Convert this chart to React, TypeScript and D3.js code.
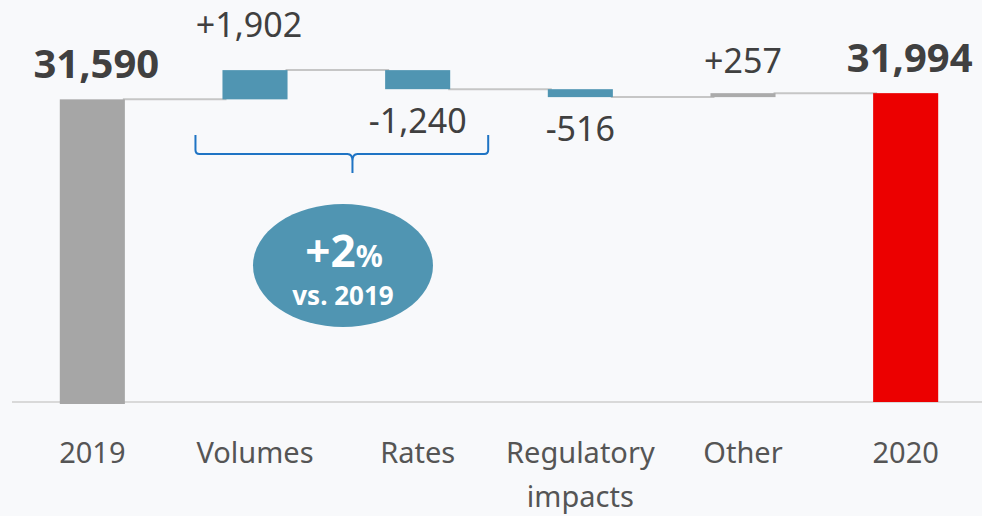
import React from "react";
import * as d3 from "d3";

// waterfall data
const categories = ["2019", "Volumes", "Rates", "Regulatory impacts", "Other", "2020"];
const values = [31590, 1902, -1240, -516, 257, 31994];
const kinds = ["total", "delta", "delta", "delta", "delta", "total"];
const valueLabels = ["31,590", "+1,902", "-1,240", "-516", "+257", "31,994"];
const badgeMain = "+2";
const badgeSub = "vs. 2019";

const W = 982;
const H = 516;
const baseY = 402;

const BLUE = "#5095b2";
const GREY = "#a6a6a6";
const RED = "#ec0000";

function barColor(cat: string, kind: string) {
  if (kind === "total") return cat === "2020" ? RED : GREY;
  if (cat === "Other") return "#ababab";
  return BLUE;
}

export default function App() {
  const x = d3.scaleBand().domain(categories).range([11, 987]).paddingInner(0.6).paddingOuter(0.3);
  const y = d3.scaleLinear().domain([11900, 33500]).range([baseY, 70]);
  const bw = x.bandwidth();

  // running totals
  let run = 0;
  const bars = categories.map((c, i) => {
    let lo: number, hi: number;
    if (kinds[i] === "total") {
      lo = y.domain()[0];
      hi = values[i];
      run = values[i];
    } else {
      const start = run;
      run = run + values[i];
      lo = Math.min(start, run);
      hi = Math.max(start, run);
    }
    return { c, i, lo, hi, end: run, v: values[i], kind: kinds[i] };
  });

  const volX = x("Volumes")!;
  const ratesX = x("Rates")!;
  const bL = volX - 27;
  const bR = ratesX + bw + 38;
  const stem = bL + 157;

  return (
    <svg width={W} height={H} style={{ position: "absolute", left: 0, top: 0 }} fontFamily="'Noto Sans', sans-serif">
      <rect width={W} height={H} fill="#f8f9fb" />
      <line x1={12} x2={W} y1={baseY} y2={baseY} stroke="#d9d9d9" strokeWidth={2} />

      {bars.slice(0, -1).map((b, i) => (
        <line
          key={"c" + i}
          x1={x(b.c)! + bw - 2}
          x2={x(categories[i + 1])! + 4}
          y1={y(b.end)}
          y2={y(b.end)}
          stroke="#c6c6c6"
          strokeWidth={2}
        />
      ))}

      {bars.map((b) => (
        <rect
          key={b.c}
          x={x(b.c)}
          y={y(b.hi)}
          width={bw}
          height={(b.kind === "total" ? baseY + (b.c === "2019" ? 2 : 0) : y(b.lo)) - y(b.hi)}
          fill={barColor(b.c, b.kind)}
        />
      ))}

      {bars.map((b) => {
        const cx = x(b.c)! + bw / 2;
        if (b.kind === "total") {
          return (
            <text key={"l" + b.c} x={cx + 4} y={y(b.hi) - 21} textAnchor="middle" fontSize={40} fontWeight={700} fill="#404040">
              {valueLabels[b.i]}
            </text>
          );
        }
        const above = b.v > 0;
        return (
          <text
            key={"l" + b.c}
            x={cx + (b.c === "Volumes" ? -6 : 0)}
            y={above ? y(b.hi) - (b.c === "Volumes" ? 33 : 20) : y(b.lo) + 44}
            textAnchor="middle"
            fontSize={34}
            fill="#404040"
          >
            {valueLabels[b.i]}
          </text>
        );
      })}

      {categories.map((c) => {
        const parts = c === "Regulatory impacts" ? ["Regulatory", "impacts"] : [c];
        return (
          <text key={"t" + c} x={x(c)! + bw / 2} y={463} textAnchor="middle" fontSize={29} fill="#555">
            {parts.map((p, k) => (
              <tspan key={k} x={x(c)! + bw / 2} dy={k === 0 ? 0 : 44}>
                {p}
              </tspan>
            ))}
          </text>
        );
      })}

      <path
        d={`M${bL},135 V150 Q${bL},154 ${bL + 4},154 H${stem - 5} Q${stem},154 ${stem},161 V173 M${stem},161 Q${stem},154 ${stem + 5},154 H${bR - 4} Q${bR},154 ${bR},150 V135`}
        fill="none"
        stroke="#1f74c4"
        strokeWidth={2}
      />

      <ellipse cx={343} cy={265.5} rx={90} ry={61.5} fill={BLUE} />
      <text x={344} y={267} textAnchor="middle" fill="#fff" fontWeight={700}>
        <tspan fontSize={44}>{badgeMain}</tspan>
        <tspan fontSize={30}>%</tspan>
      </text>
      <text x={343} y={305} textAnchor="middle" fill="#fff" fontWeight={700} fontSize={26}>
        {badgeSub}
      </text>
    </svg>
  );
}
